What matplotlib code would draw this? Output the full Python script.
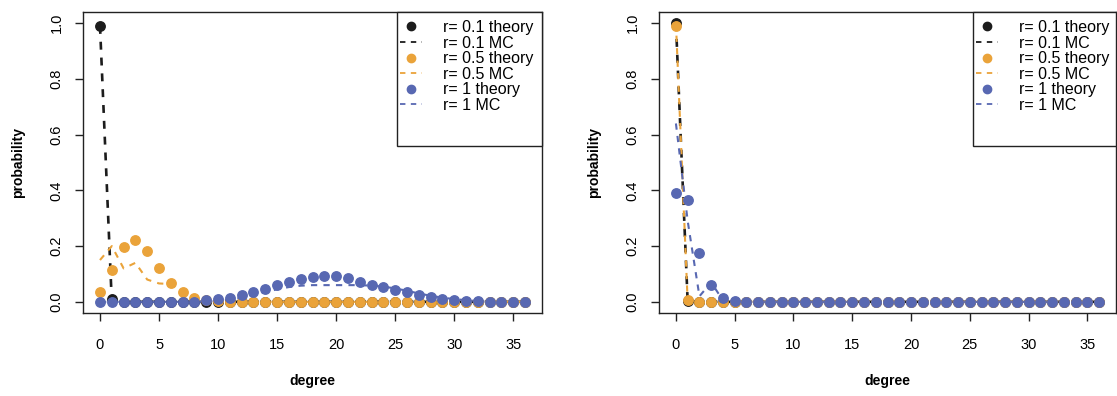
import matplotlib
matplotlib.use("Agg")
import matplotlib.pyplot as plt
from matplotlib.lines import Line2D
from matplotlib.patches import Rectangle

plt.rcParams['font.family'] = ['Liberation Sans', 'DejaVu Sans']

degree = list(range(37))

def pad(vals, n=37):
    return list(vals) + [0.0] * (n - len(vals))

# Left panel
black_theory_left = pad([0.99, 0.012])
black_mc_left = pad([0.99, 0.0])
orange_theory_left = pad([0.036, 0.116, 0.196, 0.221, 0.182, 0.121, 0.069, 0.036, 0.015, 0.006, 0.002])
orange_mc_left = pad([0.15, 0.20, 0.12, 0.14, 0.08, 0.066, 0.064, 0.035, 0.015, 0.005, 0.001])
blue_theory_left = pad([0, 0, 0, 0, 0, 0, 0, 0, 0.001, 0.005, 0.010, 0.015, 0.025, 0.036, 0.046,
                        0.059, 0.071, 0.081, 0.090, 0.094, 0.092, 0.086, 0.072, 0.062, 0.052,
                        0.041, 0.034, 0.024, 0.017, 0.011, 0.006, 0.004, 0.002, 0.001, 0.001])
blue_mc_left = pad([0, 0, 0, 0, 0, 0, 0, 0, 0, 0, 0.003, 0.008, 0.015, 0.025, 0.035, 0.045,
                    0.053, 0.058, 0.060, 0.060, 0.060, 0.060, 0.060, 0.058, 0.055, 0.048,
                    0.040, 0.030, 0.022, 0.015, 0.010, 0.006, 0.003, 0.001])

# Right panel
black_theory_right = pad([1.0, 0.004])
black_mc_right = pad([1.0, 0.0])
orange_theory_right = pad([0.99, 0.008])
orange_mc_right = pad([1.0, 0.0])
blue_theory_right = pad([0.39, 0.365, 0.175, 0.062, 0.015, 0.003])
blue_mc_right = pad([0.64, 0.29, 0.02, 0.07, 0.005])

x_ticks = [0, 5, 10, 15, 20, 25, 30, 35]
y_ticks = [0.0, 0.2, 0.4, 0.6, 0.8, 1.0]
labels = ["r= 0.1 theory", "r= 0.1 MC", "r= 0.5 theory", "r= 0.5 MC", "r= 1 theory", "r= 1 MC"]

c_black = '#1c1c1c'
c_orange = '#EAA33A'
c_blue = '#5868B2'

W, H = 1117, 396
fig = plt.figure(figsize=(W / 100, H / 100), dpi=100)

TOP, BOT = 12, 313

def make_ax(left_px, right_px):
    return fig.add_axes([left_px / W, (H - BOT) / H, (right_px - left_px) / W, (BOT - TOP) / H])

ax1 = make_ax(83, 542)
ax2 = make_ax(659, 1116)

def draw(ax, series, left_px, right_px):
    wpx = right_px - left_px
    hpx = BOT - TOP
    ms = 6.8
    for (th, mc, col), lw in zip(series, [1.9, 1.5, 1.5]):
        ax.plot(degree, mc, linestyle=(0, (3.0, 3.0)), lw=lw, color=col, zorder=2)
        ax.plot(degree, th, linestyle='none', marker='o', ms=ms, color=col, mec=col, zorder=3)
    ax.set_xlim(-1.44, 37.44)
    ax.set_ylim(-0.04, 1.04)
    ax.set_xticks(x_ticks)
    ax.set_yticks(y_ticks)
    ax.set_xticklabels([str(t) for t in x_ticks], fontsize=10.5)
    ax.set_yticklabels([f"{t:.1f}" for t in y_ticks], fontsize=10.5, rotation=90, va='center')
    ax.tick_params(axis='both', direction='out', length=6, width=1.0, color='#222222')
    ax.tick_params(axis='x', pad=12)
    ax.tick_params(axis='y', pad=8)
    for s in ax.spines.values():
        s.set_linewidth(1.0)
        s.set_color('#222222')
    ax.set_xlabel("degree", fontsize=10, fontweight='bold')
    ax.set_ylabel("probability", fontsize=10, fontweight='bold')
    ax.xaxis.set_label_coords(0.5, (BOT - 374) / hpx)
    ax.yaxis.set_label_coords(-58 / wpx, 0.5)

    # legend frame (drawn separately to match the tall box)
    box_left = 314 / wpx
    box_bottom = (BOT - 146) / hpx
    ax.add_patch(Rectangle((box_left, box_bottom), 1.0 - box_left, 1.0 - box_bottom,
                           transform=ax.transAxes, fill=True, facecolor='white',
                           edgecolor='#222222', lw=1.0, zorder=5, clip_on=False))
    handles = []
    for (th, mc, col) in series:
        handles.append(Line2D([], [], linestyle='none', marker='o', ms=6, color=col))
        handles.append(Line2D([], [], linestyle=(0, (3, 3)), lw=1.3, color=col))
    fs = 11.5
    fpx = fs * 100 / 72
    leg = ax.legend(handles, labels, loc='upper left',
                    bbox_to_anchor=(317 / wpx, (BOT - 20) / hpx),
                    borderaxespad=0.0, borderpad=0.0, fontsize=fs,
                    frameon=False, labelspacing=0.035, handlelength=22 / fpx,
                    handletextpad=(443 - 422) / fpx)
    leg.set_zorder(6)

draw(ax1, [(black_theory_left, black_mc_left, c_black),
           (orange_theory_left, orange_mc_left, c_orange),
           (blue_theory_left, blue_mc_left, c_blue)], 83, 542)
draw(ax2, [(black_theory_right, black_mc_right, c_black),
           (orange_theory_right, orange_mc_right, c_orange),
           (blue_theory_right, blue_mc_right, c_blue)], 659, 1116)

fig.savefig("out.png", dpi=100)
